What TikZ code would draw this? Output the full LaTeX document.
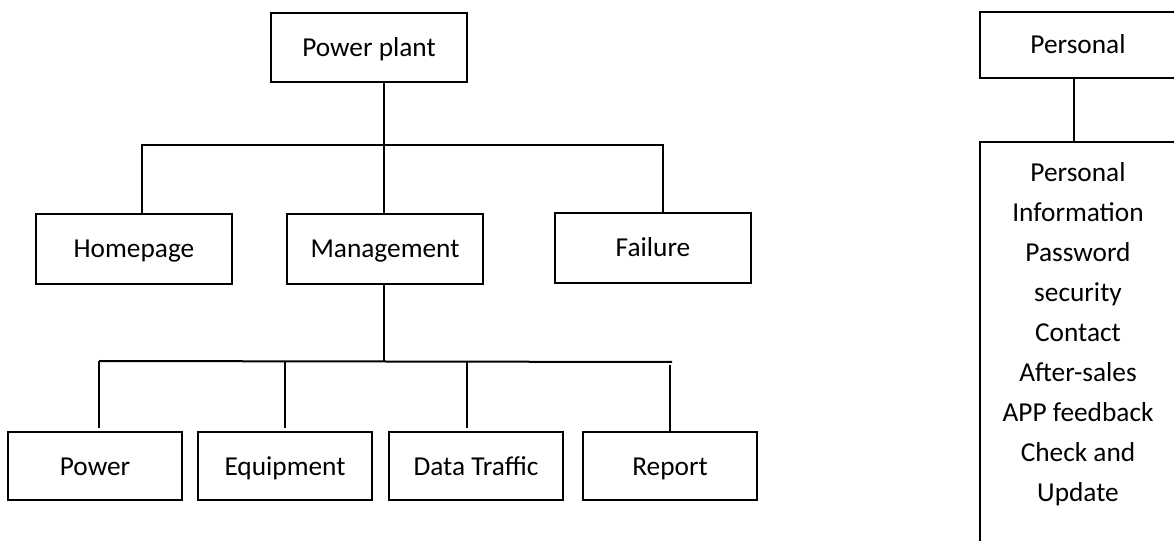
\documentclass[tikz,border=0pt]{standalone}
\usepackage{fontspec}
\setmainfont{Carlito}
\begin{document}
\begin{tikzpicture}[x=0.75pt,y=-0.75pt,
    line width=1.5pt,
    box/.style={draw, rectangle, inner sep=0pt, minimum width=147pt, minimum height=52pt,
        text height=17.5pt, text depth=4pt, font=\fontsize{20.5}{30}\selectfont},
    smallbox/.style={box, minimum width=130.5pt, minimum height=51pt},
    listtext/.style={align=center, inner sep=0pt, font=\fontsize{20.5}{30}\selectfont}]
        \useasboundingbox (0,0) rectangle (1174,541);
        \clip (0,0) rectangle (1174,541);
        % 顶层
        \node[box] (plant) at (369,47.5) {Power plant};
        % 第二层
        \node[box] (home) at (134,249) {Homepage};
        \node[box] (mgmt) at (385,249) {Management};
        \node[box] (fail) at (653,248) {Failure};
        % 第三层
        \node[smallbox] (power) at (95,466) {Power};
        \node[smallbox] (equip) at (285,466) {Equipment};
        \node[smallbox] (data) at (476,466) {Data Traffic};
        \node[smallbox] (report) at (670,466) {Report};
        % 右侧
        \node[box, minimum height=49.5pt] (pers) at (1078,45) {Personal};
        \node[box, minimum height=337.5pt] (list) at (1078,367) {};
        \node[listtext] (items) at (1078,334) {Personal\\Information\\Password\\security\\Contact\\After-sales\\APP feedback\\Check and\\Update};
        % 连线
        \coordinate (bus1) at (384,145);
        \coordinate (busL) at (99,361);
        \coordinate (busR) at (672,362);
        \draw (plant.south -| bus1) -- (bus1) -- ([xshift=-0.75pt]mgmt.north);
        \draw ([xshift=6pt]home.north) |- (bus1) -| ([xshift=7.5pt]fail.north);
        \draw ([xshift=-0.75pt]mgmt.south) -- ([xshift=-0.75pt]mgmt.south |- busL);
        \draw (busL) -- (busR);
        \draw[shorten >=2.25pt] (busL) -- ([xshift=3pt]power.north);
        \draw[shorten >=2.25pt] (equip.north |- busL) -- (equip.north);
        \draw[shorten >=2.25pt] ([xshift=-6.75pt]data.north |- busL) -- ([xshift=-6.75pt]data.north);
        \draw ([yshift=-2.25pt]report.north |- busR) -- (report.north);
        \draw ([xshift=-3pt]pers.south) -- ([xshift=-3pt]pers.south |- list.north);
\end{tikzpicture}
\end{document}
